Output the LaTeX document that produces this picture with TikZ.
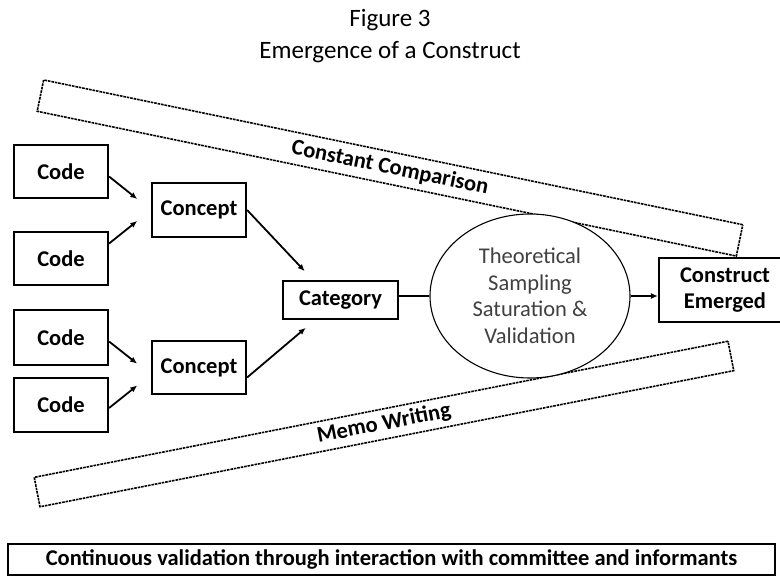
\documentclass[tikz,border=0pt]{standalone}
\usepackage{fontspec}
\setmainfont{Carlito}
\usetikzlibrary{arrows.meta,shapes.geometric}

\begin{document}
\begin{tikzpicture}[x=1pt,y=-1pt,
  boxlabel/.style={font=\bfseries\fontsize{22.5}{26}\selectfont},
  box/.style={boxlabel, draw, line width=2.2pt, inner sep=0pt, align=center},
  band/.style={boxlabel, draw, line width=1.6pt, dash pattern=on 2.6pt off 0.9pt,
    inner sep=0pt, fill=white},
  arr/.style={line width=1.8pt, -{Latex[length=7pt,width=6pt]}},
  link/.style={arr, shorten >=17.5pt},
  catlink/.style={arr, shorten >=12pt}]
\useasboundingbox (0,0) rectangle (780,576);

% title
\node[font=\fontsize{25}{32}\selectfont, align=center] (title) at (390,36)
  {Figure 3\\Emergence of a Construct};

% the two slanted bands
\node[band, rotate=-11.7, minimum width=714pt, minimum height=32pt]
  (compare) at (390,168) {Constant Comparison};
\node[band, rotate=11.1, minimum width=707pt, minimum height=30pt]
  (memo) at (384,424) {Memo Writing};

% codes, concepts and category
\node[box, minimum width=94pt, minimum height=53pt] (code1) at (61,171.5) {Code};
\node[box, minimum width=94pt, minimum height=53pt] (code2) at (61,258.5) {Code};
\node[box, minimum width=94pt, minimum height=55pt] (code3) at (61,337.5) {Code};
\node[box, minimum width=94pt, minimum height=54pt] (code4) at (61,405) {Code};
\node[box, minimum width=94pt, minimum height=54pt] (concept1) at (199,210) {Concept};
\node[box, minimum width=94pt, minimum height=53pt] (concept2) at (199,367.5) {Concept};
\node[box, minimum width=115pt, minimum height=38pt] (category) at (340.5,300) {Category};

% theoretical sampling
\node[ellipse, draw, line width=1.1pt, fill=white, minimum width=200pt,
  minimum height=164pt, inner sep=0pt, align=center, text=black!75,
  font=\fontsize{22.5}{26.5}\selectfont] (sampling) at (530,296)
  {Theoretical\\Sampling\\Saturation \&\\Validation};

% runs past the right edge of the page
\node[box, minimum width=132pt, minimum height=64pt] (construct) at (725,290)
  {Construct\\Emerged};

% validation bar
\node[box, minimum width=767pt, minimum height=31pt] (validation) at (391.5,559.5)
  {Continuous validation through interaction with committee and informants};

% connectors
\draw[link] ([yshift=-5pt]code1.east) -- (concept1.west);
\draw[link] ([yshift=15pt]code2.east) -- (concept1.west);
\draw[link] ([yshift=-4pt]code3.east) -- ([yshift=-7pt]concept2.west);
\draw[link] ([yshift=-3pt]code4.east) -- ([yshift=-7pt]concept2.west);
\draw[catlink] (concept1.east) -- ([xshift=31pt]category.north west);
\draw[catlink] ([yshift=-10pt]concept2.east) -- ([xshift=33pt]category.south west);
\draw[line width=2pt] (sampling.west -| category.east) -- (sampling.west);
\draw[arr] (sampling.east) -- (sampling.east -| construct.west);
\end{tikzpicture}
\end{document}
